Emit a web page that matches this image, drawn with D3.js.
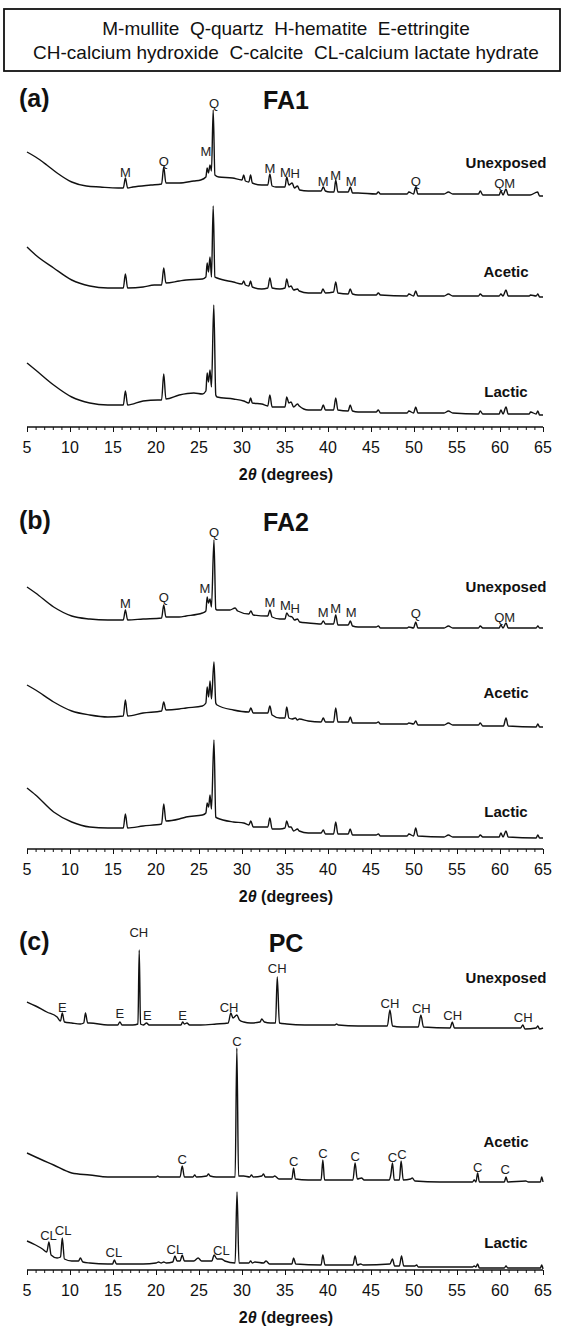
<!DOCTYPE html>
<html><head><meta charset="utf-8">
<script src="https://cdn.jsdelivr.net/npm/d3@7"></script>
<style>
body{margin:0;background:#fff}
svg{display:block}
text{font-family:"Liberation Sans",Arial,Helvetica,sans-serif;fill:#111}
</style>
</head><body>
<svg id="chart" width="562" height="1330"></svg>
<script>
// ---------------- DATA ----------------
const legendLines = ["M-mullite  Q-quartz  H-hematite  E-ettringite",
                     "CH-calcium hydroxide  C-calcite  CL-calcium lactate hydrate"];
const panelLetters = ["(a)", "(b)", "(c)"];
const panelTitles = ["FA1", "FA2", "PC"];
const traceNames = ["Unexposed", "Acetic", "Lactic"];
const xTickValues = [5,10,15,20,25,30,35,40,45,50,55,60,65];
const xAxisTitle = "2θ (degrees)";

// intensities (a.u., stacked) vs 2θ (degrees)
const fa1Unexposed = [[5.0,275],[6.0,270],[7.3,262],[8.5,254],[10.2,245],[11.9,241],[13.5,240],[15.6,239],[16.2,239],[16.44,249],[16.7,239],[17.3,240],[19.4,242],[20.65,243],[20.9,260],[21.15,244],[22.7,244],[24.4,246],[25.2,247],[25.8,250],[25.95,259],[26.1,254],[26.28,262],[26.45,256],[26.65,317],[26.85,252],[27.3,250],[28.9,249],[30.0,247],[30.2,252],[30.4,246],[30.8,245],[31.0,252],[31.2,244],[32.3,242],[33.0,242],[33.24,253],[33.5,241],[33.95,240],[35.0,240],[35.2,250],[35.45,242],[35.83,244],[36.1,239],[36.45,241],[36.7,237],[37.7,236],[39.2,236],[39.45,240],[39.7,236],[40.2,235],[40.7,235],[40.9,247],[41.15,235],[42.35,235],[42.6,240],[42.85,234],[43.5,234],[45.6,233],[45.85,235],[46.1,233],[49.2,233],[49.4,235],[49.95,233],[50.2,240],[50.45,233],[53.5,233],[54.0,235],[54.5,233],[57.5,233],[57.7,236],[58.0,232],[59.9,232],[60.1,236],[60.35,232],[60.7,238],[60.95,232],[63.5,232],[64.37,235],[64.6,231],[65.0,231]];
const fa1Acetic = [[5.0,180],[6.0,172],[8.1,159],[10.2,147],[12.3,141],[14.4,139],[16.2,139],[16.44,153],[16.7,139],[18.5,140],[19.8,142],[20.65,142],[20.9,159],[21.15,144],[22.7,146],[23.5,147],[25.4,148],[25.8,150],[25.95,164],[26.1,155],[26.28,170],[26.45,150],[26.65,221],[26.85,150],[27.1,149],[29.0,145],[30.0,143],[30.2,146],[30.4,142],[30.8,141],[31.0,146],[31.2,140],[32.3,138],[33.0,139],[33.24,149],[33.5,139],[34.4,138],[35.0,139],[35.2,148],[35.45,140],[35.7,141],[36.0,137],[36.45,138],[36.66,136],[37.7,134],[39.2,134],[39.4,138],[39.7,134],[40.65,135],[40.9,145],[41.15,134],[42.35,133],[42.58,138],[42.85,133],[43.5,132],[45.6,132],[45.85,134],[46.1,132],[49.2,131],[49.4,133],[49.95,131],[50.2,136],[50.45,131],[53.5,131],[54.0,133],[54.5,131],[57.5,131],[57.7,133],[58.0,131],[59.9,131],[60.1,133],[60.35,131],[60.7,137],[60.95,131],[63.4,131],[63.55,132],[64.2,131],[64.4,133],[64.6,130],[65.0,130]];
const fa1Lactic = [[5.0,64],[6.0,57],[8.1,42],[10.2,30],[12.3,24],[14.4,22],[16.2,22],[16.44,36],[16.7,22],[18.5,26],[20.2,27],[20.65,27],[20.9,53],[21.15,28],[22.7,32],[24.4,34],[25.4,33],[25.8,36],[25.95,54],[26.1,45],[26.28,57],[26.45,40],[26.72,122],[26.95,32],[27.1,30],[29.0,28],[30.2,26],[30.8,24],[31.0,29],[31.2,24],[32.3,23],[33.0,21],[33.24,32],[33.5,20],[34.4,20],[35.0,20],[35.2,30],[35.45,24],[35.7,25],[36.0,20],[36.45,23],[36.66,21],[37.7,17],[39.2,17],[39.45,22],[39.7,17],[40.65,17],[40.9,29],[41.15,17],[42.35,16],[42.58,22],[42.85,16],[43.5,15],[45.6,15],[45.85,17],[46.1,14],[49.2,14],[49.4,16],[49.95,14],[50.2,20],[50.45,14],[53.5,14],[54.0,16],[54.5,14],[57.5,13],[57.7,16],[58.0,13],[59.9,13],[60.1,17],[60.35,13],[60.7,20],[60.95,13],[63.4,13],[63.55,15],[64.2,13],[64.4,16],[64.6,12],[65.0,12]];

const fa2Unexposed = [[5.0,262],[6.0,256],[8.1,242],[10.2,233],[12.3,230],[14.4,229],[16.2,229],[16.44,239],[16.7,229],[18.5,230],[20.65,231],[20.9,244],[21.15,232],[22.7,232],[23.5,233],[25.4,236],[25.8,238],[25.95,252],[26.1,246],[26.28,250],[26.45,242],[26.74,309],[26.95,240],[27.1,239],[28.6,239],[29.2,241],[29.5,238],[30.8,235],[31.03,238],[31.3,234],[33.0,233],[33.24,239],[33.5,232],[34.4,230],[35.0,230],[35.2,236],[35.45,233],[35.83,232],[36.1,229],[36.45,230],[36.7,227],[37.7,226],[39.2,225],[39.45,228],[39.7,225],[40.65,225],[40.9,234],[41.15,224],[42.35,224],[42.6,228],[42.85,223],[43.5,222],[45.6,222],[45.85,223],[46.1,221],[49.2,221],[49.4,222],[49.95,221],[50.2,227],[50.45,221],[53.5,221],[54.0,223],[54.5,221],[57.5,221],[57.7,223],[58.0,221],[59.9,221],[60.1,224],[60.35,221],[60.7,226],[60.95,221],[64.2,221],[64.4,223],[64.6,221],[65.0,221]];
const fa2Acetic = [[5.0,164],[6.0,159],[8.1,147],[10.2,138],[12.3,134],[14.4,132],[16.2,133],[16.44,149],[16.7,133],[18.5,136],[20.65,138],[20.9,147],[21.15,139],[22.7,140],[23.5,141],[25.4,143],[25.8,146],[25.95,162],[26.12,152],[26.28,168],[26.45,150],[26.74,187],[26.95,146],[27.1,144],[29.0,139],[30.8,137],[31.03,141],[31.3,136],[33.0,136],[33.24,143],[33.5,134],[34.4,131],[35.0,131],[35.2,142],[35.45,131],[35.83,130],[36.2,131],[36.45,129],[36.66,130],[37.7,128],[39.2,127],[39.45,131],[39.7,127],[40.65,127],[40.9,141],[41.15,127],[42.35,127],[42.6,132],[42.85,126],[43.5,126],[45.6,126],[45.85,127],[46.1,125],[49.2,125],[49.4,126],[49.95,125],[50.2,128],[50.45,124],[53.5,124],[54.0,126],[54.5,124],[57.5,124],[57.7,126],[58.0,123],[60.4,123],[60.7,131],[60.95,123],[64.2,122],[64.4,125],[64.6,122],[65.0,122]];
const fa2Lactic = [[5.0,61],[6.0,54],[8.1,37],[10.2,27],[12.3,22],[14.4,21],[16.2,21],[16.44,35],[16.7,21],[18.5,23],[20.65,25],[20.9,45],[21.15,28],[22.7,30],[23.5,32],[25.4,34],[25.8,36],[25.95,46],[26.12,42],[26.28,54],[26.45,40],[26.74,109],[26.95,32],[27.1,31],[29.0,27],[30.2,26],[30.8,24],[31.03,28],[31.3,22],[33.0,22],[33.24,31],[33.5,20],[34.4,20],[35.0,21],[35.2,28],[35.45,22],[35.7,22],[36.0,18],[36.45,20],[36.66,18],[37.7,16],[39.2,16],[39.45,19],[39.7,15],[40.65,15],[40.9,27],[41.15,15],[42.35,15],[42.58,20],[42.85,14],[43.5,14],[45.6,14],[45.85,15],[46.1,13],[49.2,13],[49.4,15],[49.95,13],[50.2,21],[50.45,13],[53.5,12],[54.0,14],[54.5,12],[57.5,12],[57.7,14],[58.0,12],[59.9,12],[60.1,16],[60.35,12],[60.7,18],[60.95,12],[64.2,11],[64.4,14],[64.6,11],[65.0,11]];

const pcUnexposed = [[5.0,268],[6.0,264],[7.3,258],[8.5,253],[8.9,249],[9.1,257],[9.35,248],[10.2,247],[11.2,246],[11.6,247],[11.8,257],[12.05,247],[12.3,247],[14.4,245],[15.55,245],[15.8,248],[16.05,245],[17.3,245],[17.9,246],[18.05,320],[18.2,246],[18.53,245],[18.9,247],[19.2,245],[21.0,245],[22.9,245],[23.1,248],[23.3,246],[23.6,247],[23.9,245],[25.2,245],[27.0,246],[28.4,247],[28.7,257],[28.95,252],[29.4,255],[29.7,250],[30.2,248],[31.0,247],[32.1,248],[32.3,251],[32.6,248],[33.3,247],[33.9,247],[34.1,293],[34.35,247],[35.2,246],[37.3,245],[40.8,245],[41.0,246],[41.2,245],[43.5,244],[46.0,244],[46.9,244],[47.2,260],[47.5,244],[48.5,243],[50.5,243],[50.8,255],[51.1,243],[54.2,242],[54.45,248],[54.7,242],[57.0,242],[58.5,242],[60.0,242],[62.4,242],[62.65,245],[62.9,241],[64.2,242],[64.4,244],[64.6,241],[65.0,242]];
const pcAcetic = [[5.0,117],[6.0,113],[8.1,105],[10.2,97],[12.3,95],[14.4,93],[18.5,93],[20.0,93],[20.2,94],[20.4,93],[22.8,93],[23.05,104],[23.3,93],[24.3,93],[24.5,95],[24.7,93],[25.9,94],[26.1,96],[26.3,94],[27.0,93],[29.2,93],[29.4,222],[29.6,94],[30.2,94],[30.9,93],[31.1,95],[31.3,93],[32.3,94],[32.5,96],[32.7,93],[33.6,93],[33.8,94],[34.3,91],[35.8,91],[36.0,102],[36.2,91],[37.7,90],[39.2,90],[39.4,110],[39.6,90],[40.4,90],[42.9,90],[43.15,107],[43.4,91],[43.9,92],[44.2,90],[47.1,90],[47.3,95],[47.5,107],[47.7,90],[48.3,90],[48.5,109],[48.75,90],[49.6,91],[49.8,92],[50.1,89],[53.0,88],[56.8,88],[57.0,90],[57.2,88],[57.4,97],[57.6,88],[60.5,88],[60.7,93],[60.9,88],[63.0,89],[63.3,88],[64.7,88],[64.85,93],[65.0,88]];
const pcLactic = [[5.0,29],[6.0,25],[6.8,21],[7.3,18],[7.55,28],[7.8,15],[8.5,12],[8.9,13],[9.1,32],[9.35,11],[10.2,9],[11.0,9],[11.2,12],[11.5,8],[12.3,7],[14.4,6],[14.95,6],[15.15,10],[15.4,6],[18.5,6],[20.0,7],[20.3,8],[20.6,7],[20.9,8],[21.2,7],[21.95,8],[22.2,14],[22.45,9],[22.8,9],[23.05,15],[23.3,9],[24.4,9],[24.9,12],[25.3,9],[26.5,9],[26.75,15],[27.1,11],[27.6,11],[28.0,9],[29.2,7],[29.42,78],[29.65,7],[30.8,7],[31.0,9],[31.2,7],[31.5,8],[32.5,7],[32.8,9],[33.2,6],[35.8,6],[36.0,12],[36.25,6],[39.2,5],[39.4,15],[39.65,5],[42.9,5],[43.15,14],[43.4,5],[43.8,6],[44.1,5],[47.2,6],[47.5,11],[47.75,4],[48.3,4],[48.55,14],[48.8,4],[50.1,4],[50.3,5],[50.5,3],[56.8,3],[57.0,4],[57.2,3],[57.4,6],[57.6,2],[60.5,2],[60.7,4],[60.9,2],[64.7,2],[64.85,5],[65.0,1]];

// phase labels: [text, 2θ, intensity]
const fa1Labels = [["M",16.44,250],["Q",20.9,261],["M",25.8,271],["Q",26.74,319],["M",33.24,254],["M",35.06,250],["H",36.2,249],["M",39.45,241],["M",40.9,247],["M",42.7,241],["Q",50.2,241],["QM",60.55,239]];
const fa2Labels = [["M",16.44,241],["Q",20.9,247],["M",25.7,256],["Q",26.74,312],["M",33.24,242],["M",35.06,239],["H",36.2,236],["M",39.45,232],["M",40.9,236],["M",42.7,232],["Q",50.2,231],["QM",60.55,227]];
const pcLabels = [["E",9.1,258],["E",15.8,252],["CH",18.0,333],["E",19.0,250],["E",23.1,250],["CH",28.5,258],["CH",34.1,297],["CH",47.2,262],["CH",50.85,257],["CH",54.5,250],["CH",62.7,248],
  ["C",29.4,224],["C",23.05,106],["C",36.0,104],["C",39.4,112],["C",43.15,109],["C",47.5,108],["C",48.6,111],["C",57.4,98],["C",60.6,96],
  ["CL",7.5,30],["CL",9.2,35],["CL",15.1,13],["CL",22.2,16],["CL",27.6,15]];

// ---------------- LAYOUT ----------------
const svg = d3.select("#chart");
const x = d3.scaleLinear().domain([5, 65]).range([27, 543]);

// legend box
svg.append("rect").attr("x", 4).attr("y", 9).attr("width", 556).attr("height", 62)
  .attr("fill", "none").attr("stroke", "#111").attr("stroke-width", 1.8);
legendLines.forEach((t, i) => {
  svg.append("text").attr("x", 286).attr("y", 35 + i * 23.5)
    .attr("text-anchor", "middle").style("font-size", "19px").style("white-space", "pre").text(t);
});

const panels = [
  {axisY: 427, traces: [fa1Unexposed, fa1Acetic, fa1Lactic], labels: fa1Labels, nameH: [259, 150, 30]},
  {axisY: 849, traces: [fa2Unexposed, fa2Acetic, fa2Lactic], labels: fa2Labels, nameH: [257, 151, 32]},
  {axisY: 1270, traces: [pcUnexposed, pcAcetic, pcLactic], labels: pcLabels, nameH: [287, 123, 22]}
];

panels.forEach((p, pi) => {
  const g = svg.append("g");
  const y = d3.scaleLinear().domain([0, 340]).range([p.axisY, p.axisY - 340]);
  const line = d3.line().x(d => x(d[0])).y(d => y(d[1])).curve(d3.curveMonotoneX);

  g.append("text").attr("x", 19).attr("y", p.axisY - 320)
    .style("font-size", "25px").style("font-weight", "bold").text(panelLetters[pi]);
  g.append("text").attr("x", 286).attr("y", p.axisY - 318).attr("text-anchor", "middle")
    .style("font-size", "25px").style("font-weight", "bold").text(panelTitles[pi]);

  p.traces.forEach((tr, ti) => {
    g.append("path").datum(tr).attr("d", line)
      .attr("fill", "none").attr("stroke", "#111").attr("stroke-width", 1.4)
      .attr("stroke-linejoin", "round");
    g.append("text").attr("x", 506).attr("y", y(p.nameH[ti])).attr("text-anchor", "middle")
      .style("font-size", "15px").style("font-weight", "bold").text(traceNames[ti]);
  });

  g.selectAll("text.lab").data(p.labels).enter().append("text").attr("class", "lab")
    .attr("x", d => x(d[1])).attr("y", d => y(d[2])).attr("text-anchor", "middle")
    .style("font-size", "13px").style("fill", "#222").text(d => d[0]);

  const axis = d3.axisBottom(x).tickValues(d3.range(5, 66, 1)).tickSize(3).tickFormat("");
  const ag = g.append("g").attr("transform", `translate(0,${p.axisY})`).call(axis);
  ag.select(".domain").attr("stroke", "#111").attr("stroke-width", 1.3).attr("d", `M${x(5)},0H${x(65)}`);
  ag.selectAll(".tick line").attr("stroke", "#111").attr("stroke-width", 1)
    .attr("y2", d => (d % 5 === 0 ? 5 : 3));
  g.selectAll("text.tl").data(xTickValues).enter().append("text").attr("class", "tl")
    .attr("x", d => x(d)).attr("y", p.axisY + 26).attr("text-anchor", "middle")
    .style("font-size", "16px").text(d => d);
  const tt = g.append("text").attr("x", 286).attr("y", p.axisY + 53).attr("text-anchor", "middle")
    .style("font-size", "16px").style("font-weight", "bold");
  tt.append("tspan").text("2");
  tt.append("tspan").style("font-style", "italic").text("θ");
  tt.append("tspan").text(" (degrees)");
});
</script>
</body></html>
